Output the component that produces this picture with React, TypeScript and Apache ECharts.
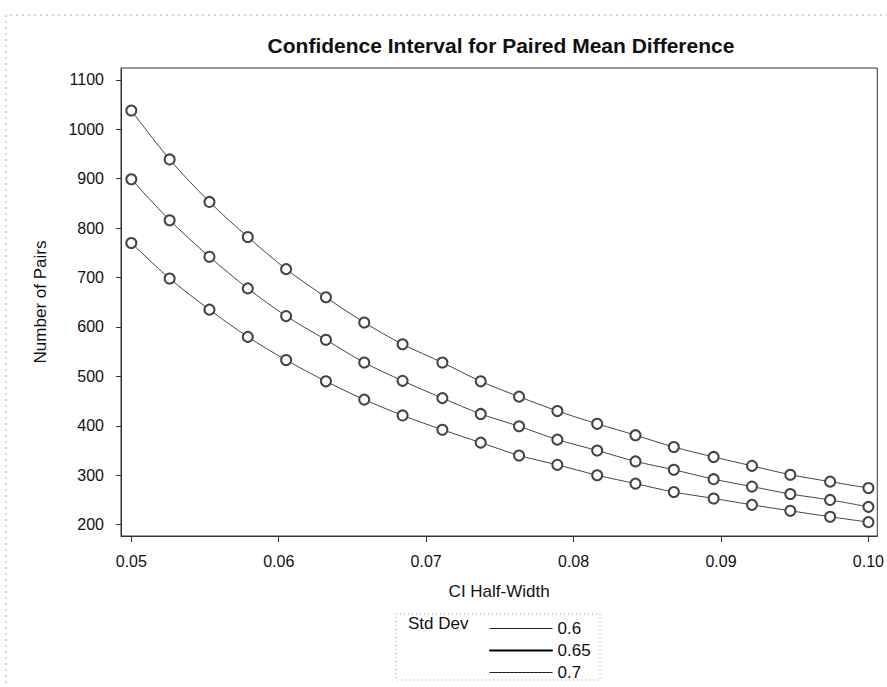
import React, { useEffect, useRef } from "react";
import * as echarts from "echarts";

const halfWidths = [
  0.05, 0.0526, 0.0553, 0.0579, 0.0605, 0.0632, 0.0658, 0.0684, 0.0711, 0.0737,
  0.0763, 0.0789, 0.0816, 0.0842, 0.0868, 0.0895, 0.0921, 0.0947, 0.0974, 0.1,
];
const pairsSd060 = [
  770, 698, 635, 580, 533, 490, 453, 421, 392, 366,
  340, 321, 300, 283, 266, 253, 240, 228, 216, 205,
];
const pairsSd065 = [
  899, 816, 742, 678, 622, 574, 528, 491, 456, 424,
  399, 372, 350, 328, 311, 292, 277, 262, 250, 236,
];
const pairsSd070 = [
  1038, 939, 853, 782, 717, 660, 609, 565, 528, 490,
  459, 430, 404, 381, 357, 337, 319, 301, 287, 274,
];
const seriesNames = ["0.6", "0.65", "0.7"];
const xTicks = [0.05, 0.06, 0.07, 0.08, 0.09, 0.1];
const yTicks = [200, 300, 400, 500, 600, 700, 800, 900, 1000, 1100];

const FONT = "'Liberation Sans', Arial, sans-serif";

export default function App() {
  const ref = useRef<HTMLDivElement>(null);
  useEffect(() => {
    if (!ref.current) return;
    const chart = echarts.init(ref.current, null, { renderer: "svg" });
    const allSeries = [pairsSd060, pairsSd065, pairsSd070];
    const option: any = {
      animation: false,
      backgroundColor: "#ffffff",
      textStyle: { fontFamily: FONT },
      title: {
        text: "Confidence Interval for Paired Mean Difference",
        left: 496,
        textAlign: "center",
        top: 30,
        textStyle: { fontFamily: FONT, fontSize: 21, fontWeight: "bold", color: "#111" },
      },
      grid: {
        left: 121,
        right: 9,
        top: 68,
        bottom: 151,
        show: true,
        borderColor: "#333",
        borderWidth: 1,
        backgroundColor: "transparent",
      },
      xAxis: {
        type: "value",
        min: 0.0493,
        max: 0.1006,
        name: "CI Half-Width",
        nameLocation: "middle",
        nameGap: 47,
        nameTextStyle: { fontFamily: FONT, fontSize: 17, color: "#111" },
        axisLine: { show: true, lineStyle: { color: "#333", width: 1 } },
        axisTick: { show: true, length: 6, customValues: xTicks, lineStyle: { color: "#333" } },
        axisLabel: {
          customValues: xTicks,
          margin: 17,
          fontFamily: FONT,
          fontSize: 16,
          color: "#111",
          formatter: (v: number) => v.toFixed(2),
        },
        splitLine: { show: false },
      },
      yAxis: {
        type: "value",
        min: 177,
        max: 1124,
        name: "Number of Pairs",
        nameLocation: "middle",
        nameGap: 72,
        nameTextStyle: { fontFamily: FONT, fontSize: 17, color: "#111" },
        axisLine: { show: true, lineStyle: { color: "#333", width: 1 } },
        axisTick: { show: true, length: 5, customValues: yTicks, lineStyle: { color: "#333" } },
        axisLabel: {
          customValues: yTicks,
          margin: 17,
          fontFamily: FONT,
          fontSize: 16,
          color: "#111",
          formatter: (v: number) => String(v),
        },
        splitLine: { show: false },
      },
      legend: {
        orient: "vertical",
        left: 484,
        top: 615,
        icon: "rect",
        itemWidth: 63,
        itemHeight: 1,
        itemGap: 5,
        textStyle: { fontFamily: FONT, fontSize: 17, color: "#111" },
        data: [
          { name: "0.6", itemStyle: { color: "#222", borderWidth: 0 } },
          { name: "0.65", itemStyle: { color: "#000", borderColor: "#000", borderWidth: 1 } },
          { name: "0.7", itemStyle: { color: "#222", borderWidth: 0 } },
        ],
      },
      graphic: [
        {
          type: "text",
          left: 408,
          top: 615,
          style: { text: "Std Dev", fontFamily: FONT, fontSize: 17, fill: "#111" },
        },
        {
          type: "rect",
          shape: { x: 396, y: 614, width: 204, height: 66 },
          style: { fill: "none", stroke: "#999", lineWidth: 1, lineDash: [1, 3] },
        },
        {
          type: "line",
          shape: { x1: 10, y1: 15, x2: 887, y2: 15 },
          style: { stroke: "#aaa", lineWidth: 1, lineDash: [2, 4] },
        },
        {
          type: "line",
          shape: { x1: 6, y1: 15, x2: 6, y2: 687 },
          style: { stroke: "#aaa", lineWidth: 1, lineDash: [2, 4] },
        },
      ],
      series: allSeries.map((vals, si) => ({
        name: seriesNames[si],
        type: "line",
        smooth: 0.3,
        symbol: "emptyCircle",
        symbolSize: 10,
        color: "#333",
        lineStyle: { color: "#444", width: 1 },
        itemStyle: { color: "#444", borderColor: "#444", borderWidth: 1 },
        data: halfWidths.map((x, i) => [x, vals[i]]),
      })),
    };
    chart.setOption(option);
    return () => chart.dispose();
  }, []);
  return (
    <div
      ref={ref}
      style={{ position: "fixed", left: 0, top: 0, width: 887, height: 687 }}
    />
  );
}
